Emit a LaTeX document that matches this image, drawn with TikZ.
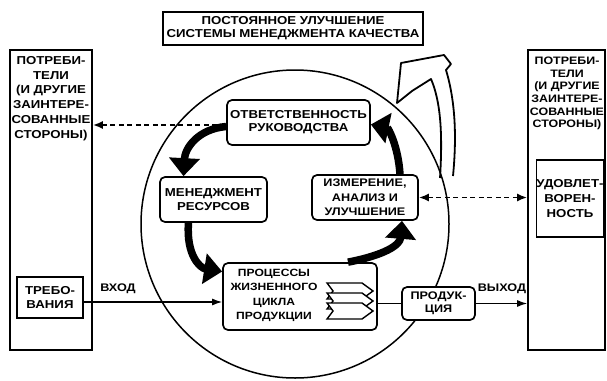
\documentclass[tikz,border=0pt]{standalone}
\usepackage{fontspec}
\setmainfont{Liberation Sans}[FakeStretch=1.15]
\usetikzlibrary{arrows.meta,calc}
\begin{document}
\begin{tikzpicture}[x=1pt,y=-1pt,
  lbl/.style={font=\bfseries\fontsize{11.5}{14}\selectfont, align=center, inner sep=0pt},
  sqbox/.style={draw, line width=1.7pt, inner sep=0pt},
  rbox/.style={draw, line width=1.7pt, rounded corners=5pt, inner sep=0pt, fill=white,
    font=\bfseries\fontsize{11.5}{14}\selectfont, align=center},
  infoflow/.style={line width=1.8pt, dash pattern=on 5pt off 3.5pt, {Latex[length=10pt,width=8pt]}-},
  flow/.style={line width=1.3pt, -{Latex[length=10pt,width=7pt]}},
  cyclearrow/.style={line width=7.5pt, -{Triangle[width=30pt,length=18pt]}},
  hollow/.style={draw, line width=1.8pt, fill=white, line join=round}
]
\useasboundingbox (0,0) rectangle (607,380);

% big hollow improvement arrow
\filldraw[hollow] (440,178) .. controls (443,130) and (440,100) .. (431,79)
  -- (412,91) -- (397,103) -- (401,63) -- (444,55) -- (451,64) -- (446,70)
  .. controls (455,100) and (457,135) .. (453,176);

% ellipse
\draw[line width=1.5pt] (295,224) circle (154);

% top box
\node[sqbox, minimum width=260, minimum height=33, lbl, font=\bfseries\fontsize{11.5}{13}\selectfont] (top) at (293,28.5)
  {ПОСТОЯННОЕ УЛУЧШЕНИЕ\\СИСТЕМЫ МЕНЕДЖМЕНТА КАЧЕСТВА};

% customers boxes
\node[sqbox, minimum width=82, minimum height=300] (left) at (51,200) {};
\node[lbl, anchor=north, font=\bfseries\fontsize{11.5}{14.8}\selectfont] (ltxt) at (51,56)
  {ПОТРЕБИ-\\ТЕЛИ\\(И ДРУГИЕ\\ЗАИНТЕРЕ-\\СОВАННЫЕ\\СТОРОНЫ)};
\node[sqbox, minimum width=77, minimum height=300] (right) at (566.5,200) {};
\node[lbl, anchor=north, font=\bfseries\fontsize{10.8}{12.6}\selectfont] (rtxt) at (567,57)
  {ПОТРЕБИ-\\ТЕЛИ\\(И ДРУГИЕ\\ЗАИНТЕРЕ-\\СОВАННЫЕ\\СТОРОНЫ)};

\node[sqbox, minimum width=66, minimum height=41, lbl] (treb) at (50,297.5)
  {ТРЕБО-\\ВАНИЯ};
\node[sqbox, minimum width=66, minimum height=77, lbl, font=\bfseries\fontsize{11.5}{15}\selectfont] (udov) at (570,198.5)
  {УДОВЛЕТ-\\ВОРЕН-\\НОСТЬ};

% process boxes
\node[rbox, minimum width=143, minimum height=45, font=\bfseries\fontsize{11.5}{13}\selectfont] (resp) at (298.5,122.5)
  {ОТВЕТСТВЕННОСТЬ\\РУКОВОДСТВА};
\node[rbox, minimum width=107, minimum height=45] (res) at (213.5,199.5)
  {МЕНЕДЖМЕНТ\\РЕСУРСОВ};
\node[rbox, minimum width=106, minimum height=45, font=\bfseries\fontsize{11}{14.5}\selectfont] (meas) at (365,197.5)
  {ИЗМЕРЕНИЕ,\\АНАЛИЗ И\\УЛУЧШЕНИЕ};
\node[rbox, minimum width=154, minimum height=67] (proc) at (300,296.5) {};
\node[lbl, font=\bfseries\fontsize{10.5}{14.5}\selectfont] (proctxt) at (274,295.5)
  {ПРОЦЕССЫ\\ЖИЗНЕННОГО\\ЦИКЛА\\ПРОДУКЦИИ};
\node[rbox, minimum width=73, minimum height=33, font=\bfseries\fontsize{11}{13}\selectfont] (prod) at (438.5,303.5)
  {ПРОДУК-\\ЦИЯ};

% stacked chevrons
\foreach \dy in {0,10,20} {
  \filldraw[fill=white, line width=1.4pt, line join=miter]
    (327,283+\dy) -- (362,283+\dy) -- (373,291+\dy) -- (362,299+\dy)
    -- (327,299+\dy) -- (333,291+\dy) -- cycle;
}

% cycle arrows
\draw[cyclearrow] ($(resp.west)+(0,4)$) .. controls (198,129) and (185,148) .. ($(res.north)+(-30,0)$);
\draw[cyclearrow] ($(res.south)+(-25,0)$) .. controls (186,255) and (200,268) .. ($(proc.west)+(0,-25)$);
\draw[cyclearrow] ($(proc.north)+(48,0)$) .. controls (385,255) and (400,245) .. ($(meas.south)+(37,0)$);
\draw[cyclearrow] ($(meas.north)+(35,0)$) .. controls (398,145) and (388,128) .. ($(resp.east)+(0,2)$);

% information flows
\draw[infoflow] (left.east |- 0,125) -- (resp.west |- 0,125);
\draw[infoflow, {Latex[length=10pt,width=8pt]}-{Latex[length=10pt,width=8pt]}] (meas.east) -- (right.west |- meas.east);

% input / output
\draw[flow] (treb.east |- 0,302) -- (proc.west |- 0,302);
\node[lbl, font=\bfseries\fontsize{11}{13}\selectfont] (vhod) at (118,289) {ВХОД};
\draw[line width=1.3pt] (proc.east |- prod.west) -- (prod.west);
\draw[flow] (prod.east) -- (right.west |- prod.east);
\node[lbl, font=\bfseries\fontsize{11}{13}\selectfont] (vyhod) at (502,289) {ВЫХОД};
\end{tikzpicture}
\end{document}
